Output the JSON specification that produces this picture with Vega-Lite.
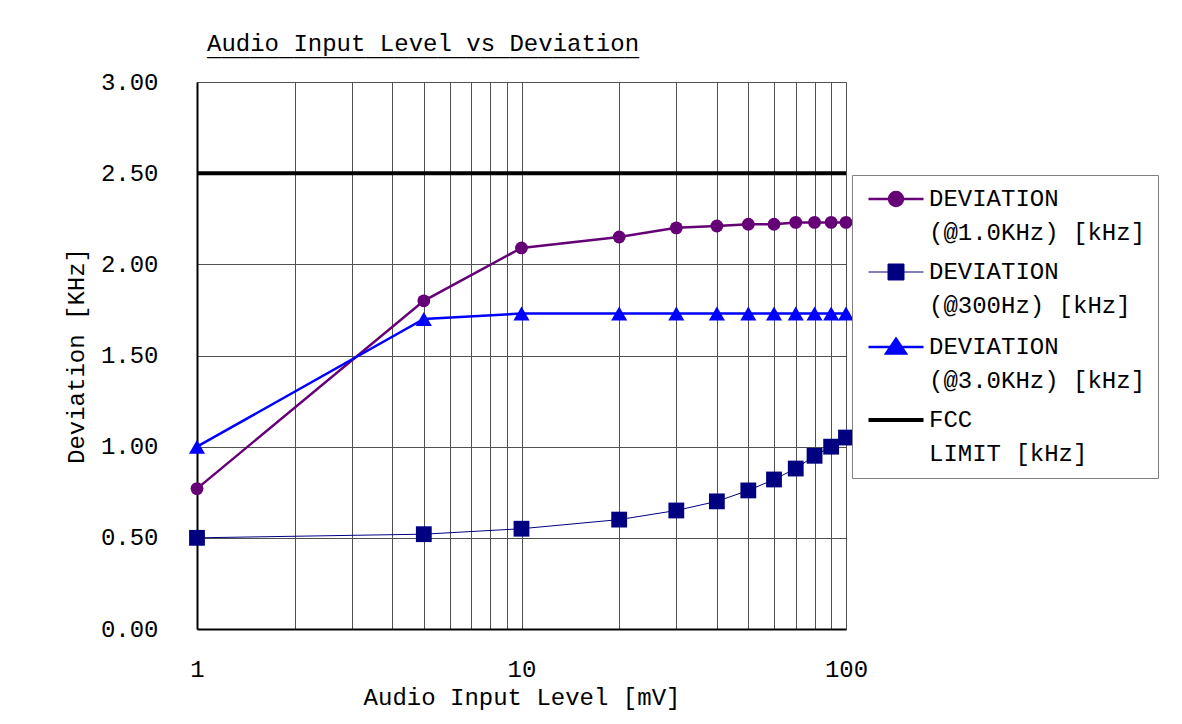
{
  "$schema": "https://vega.github.io/schema/vega-lite/v6.json",
  "width": 649,
  "height": 547,
  "autosize": {"type": "none"},
  "padding": {"left": 197, "top": 82, "right": 336, "bottom": 95},
  "background": "white",
  "title": {
    "text": "Audio Input Level vs Deviation",
    "subtitle": "______________________________",
    "anchor": "start",
    "frame": "group",
    "dx": 10,
    "offset": 9,
    "font": "Liberation Mono",
    "fontSize": 24,
    "fontWeight": "normal",
    "color": "black",
    "subtitleFont": "Liberation Mono",
    "subtitleFontSize": 24,
    "subtitleColor": "black",
    "subtitlePadding": -19
  },
  "config": {
    "view": {"stroke": null},
    "font": "Liberation Mono",
    "axis": {
      "labelFont": "Liberation Mono",
      "labelFontSize": 24,
      "labelColor": "black",
      "titleFont": "Liberation Mono",
      "titleFontSize": 24,
      "titleFontWeight": "normal",
      "titleColor": "black",
      "gridColor": "#505050",
      "gridWidth": 1,
      "gridOpacity": 1,
      "domainColor": "black",
      "domainWidth": 2,
      "ticks": false
    }
  },
  "data": {
    "values": [
      {"series": "DEVIATION (@1.0KHz) [kHz]", "x": 1, "y": 0.77},
      {"series": "DEVIATION (@1.0KHz) [kHz]", "x": 5, "y": 1.80},
      {"series": "DEVIATION (@1.0KHz) [kHz]", "x": 10, "y": 2.09},
      {"series": "DEVIATION (@1.0KHz) [kHz]", "x": 20, "y": 2.15},
      {"series": "DEVIATION (@1.0KHz) [kHz]", "x": 30, "y": 2.20},
      {"series": "DEVIATION (@1.0KHz) [kHz]", "x": 40, "y": 2.21},
      {"series": "DEVIATION (@1.0KHz) [kHz]", "x": 50, "y": 2.22},
      {"series": "DEVIATION (@1.0KHz) [kHz]", "x": 60, "y": 2.22},
      {"series": "DEVIATION (@1.0KHz) [kHz]", "x": 70, "y": 2.23},
      {"series": "DEVIATION (@1.0KHz) [kHz]", "x": 80, "y": 2.23},
      {"series": "DEVIATION (@1.0KHz) [kHz]", "x": 90, "y": 2.23},
      {"series": "DEVIATION (@1.0KHz) [kHz]", "x": 100, "y": 2.23},
      {"series": "DEVIATION (@300Hz) [kHz]", "x": 1, "y": 0.50},
      {"series": "DEVIATION (@300Hz) [kHz]", "x": 5, "y": 0.52},
      {"series": "DEVIATION (@300Hz) [kHz]", "x": 10, "y": 0.55},
      {"series": "DEVIATION (@300Hz) [kHz]", "x": 20, "y": 0.60},
      {"series": "DEVIATION (@300Hz) [kHz]", "x": 30, "y": 0.65},
      {"series": "DEVIATION (@300Hz) [kHz]", "x": 40, "y": 0.70},
      {"series": "DEVIATION (@300Hz) [kHz]", "x": 50, "y": 0.76},
      {"series": "DEVIATION (@300Hz) [kHz]", "x": 60, "y": 0.82},
      {"series": "DEVIATION (@300Hz) [kHz]", "x": 70, "y": 0.88},
      {"series": "DEVIATION (@300Hz) [kHz]", "x": 80, "y": 0.95},
      {"series": "DEVIATION (@300Hz) [kHz]", "x": 90, "y": 1.00},
      {"series": "DEVIATION (@300Hz) [kHz]", "x": 100, "y": 1.05},
      {"series": "DEVIATION (@3.0KHz) [kHz]", "x": 1, "y": 1.00},
      {"series": "DEVIATION (@3.0KHz) [kHz]", "x": 5, "y": 1.70},
      {"series": "DEVIATION (@3.0KHz) [kHz]", "x": 10, "y": 1.73},
      {"series": "DEVIATION (@3.0KHz) [kHz]", "x": 20, "y": 1.73},
      {"series": "DEVIATION (@3.0KHz) [kHz]", "x": 30, "y": 1.73},
      {"series": "DEVIATION (@3.0KHz) [kHz]", "x": 40, "y": 1.73},
      {"series": "DEVIATION (@3.0KHz) [kHz]", "x": 50, "y": 1.73},
      {"series": "DEVIATION (@3.0KHz) [kHz]", "x": 60, "y": 1.73},
      {"series": "DEVIATION (@3.0KHz) [kHz]", "x": 70, "y": 1.73},
      {"series": "DEVIATION (@3.0KHz) [kHz]", "x": 80, "y": 1.73},
      {"series": "DEVIATION (@3.0KHz) [kHz]", "x": 90, "y": 1.73},
      {"series": "DEVIATION (@3.0KHz) [kHz]", "x": 100, "y": 1.73},
      {"series": "FCC LIMIT [kHz]", "x": 1, "y": 2.5},
      {"series": "FCC LIMIT [kHz]", "x": 100, "y": 2.5}
    ]
  },
  "encoding": {
    "x": {
      "field": "x",
      "type": "quantitative",
      "scale": {"type": "log", "domain": [1, 100], "nice": false},
      "axis": {
        "title": "Audio Input Level [mV]",
        "values": [1, 2, 3, 4, 5, 6, 7, 8, 9, 10, 20, 30, 40, 50, 60, 70, 80, 90, 100],
        "format": "d",
        "labelExpr": "datum.value == 1 || datum.value == 10 || datum.value == 100 ? datum.label : ''",
        "labelOverlap": false,
        "labelFlush": false,
        "labelPadding": 28,
        "titlePadding": 4,
        "grid": true
      }
    },
    "y": {
      "field": "y",
      "type": "quantitative",
      "scale": {"domain": [0, 3], "nice": false},
      "axis": {
        "title": "Deviation [KHz]",
        "values": [0, 0.5, 1, 1.5, 2, 2.5, 3],
        "format": ".2f",
        "labelPadding": 39,
        "titlePadding": 12,
        "grid": true
      }
    },
    "color": {
      "field": "series",
      "type": "nominal",
      "scale": {
        "domain": ["DEVIATION (@1.0KHz) [kHz]", "DEVIATION (@300Hz) [kHz]", "DEVIATION (@3.0KHz) [kHz]", "FCC LIMIT [kHz]"],
        "range": ["#660077", "#000080", "#0000ff", "#000000"]
      },
      "legend": {
        "orient": "none",
        "legendX": 655,
        "legendY": 93,
        "title": null,
        "padding": 12,
        "strokeColor": "#808080",
        "fillColor": "white",
        "labelFont": "Liberation Mono",
        "labelFontSize": 24,
        "labelColor": "black",
        "labelLimit": 400,
        "symbolSize": 484,
        "symbolOffset": 20,
        "labelOffset": 21,
        "rowPadding": 15,
        "labelExpr": "[slice(datum.label, 0, indexof(datum.label, ' ')), slice(datum.label, indexof(datum.label, ' ') + 1)]",
        "encode": {
          "symbols": {
            "update": {
              "shape": {"signal": "datum.value == 'DEVIATION (@1.0KHz) [kHz]' ? 'M-2.5,0H2.5M-0.636,0A0.636,0.636 0 1,0 0.636,0A0.636,0.636 0 1,0 -0.636,0Z' : datum.value == 'DEVIATION (@300Hz) [kHz]' ? 'M-2.5,0H2.5M-0.727,-0.727H0.727V0.727H-0.727Z' : datum.value == 'DEVIATION (@3.0KHz) [kHz]' ? 'M-2.5,0H2.5M0,-0.75L0.9,0.6H-0.9Z' : 'M-2.5,0H2.5'"},
              "fill": {"scale": "color", "field": "value"},
              "stroke": {"scale": "color", "field": "value"},
              "strokeWidth": {"signal": "datum.value == 'DEVIATION (@300Hz) [kHz]' ? 1 : datum.value == 'FCC LIMIT [kHz]' ? 4 : 2.5"},
              "opacity": {"value": 1}
            }
          },
          "labels": {"update": {"lineHeight": {"value": 34}}}
        }
      }
    }
  },
  "layer": [
    {
      "mark": {"type": "line"},
      "encoding": {
        "strokeWidth": {
          "condition": [
            {"test": "datum.series == 'DEVIATION (@300Hz) [kHz]'", "value": 1},
            {"test": "datum.series == 'FCC LIMIT [kHz]'", "value": 4}
          ],
          "value": 2.5
        }
      }
    },
    {
      "transform": [{"filter": "datum.series != 'FCC LIMIT [kHz]'"}],
      "mark": {"type": "point", "filled": true, "opacity": 1},
      "encoding": {
        "shape": {
          "field": "series",
          "type": "nominal",
          "scale": {
            "domain": ["DEVIATION (@1.0KHz) [kHz]", "DEVIATION (@300Hz) [kHz]", "DEVIATION (@3.0KHz) [kHz]"],
            "range": ["circle", "square", "triangle-up"]
          },
          "legend": null
        },
        "size": {
          "condition": [
            {"test": "datum.series == 'DEVIATION (@300Hz) [kHz]'", "value": 250},
            {"test": "datum.series == 'DEVIATION (@3.0KHz) [kHz]'", "value": 260}
          ],
          "value": 165
        }
      }
    }
  ]
}
